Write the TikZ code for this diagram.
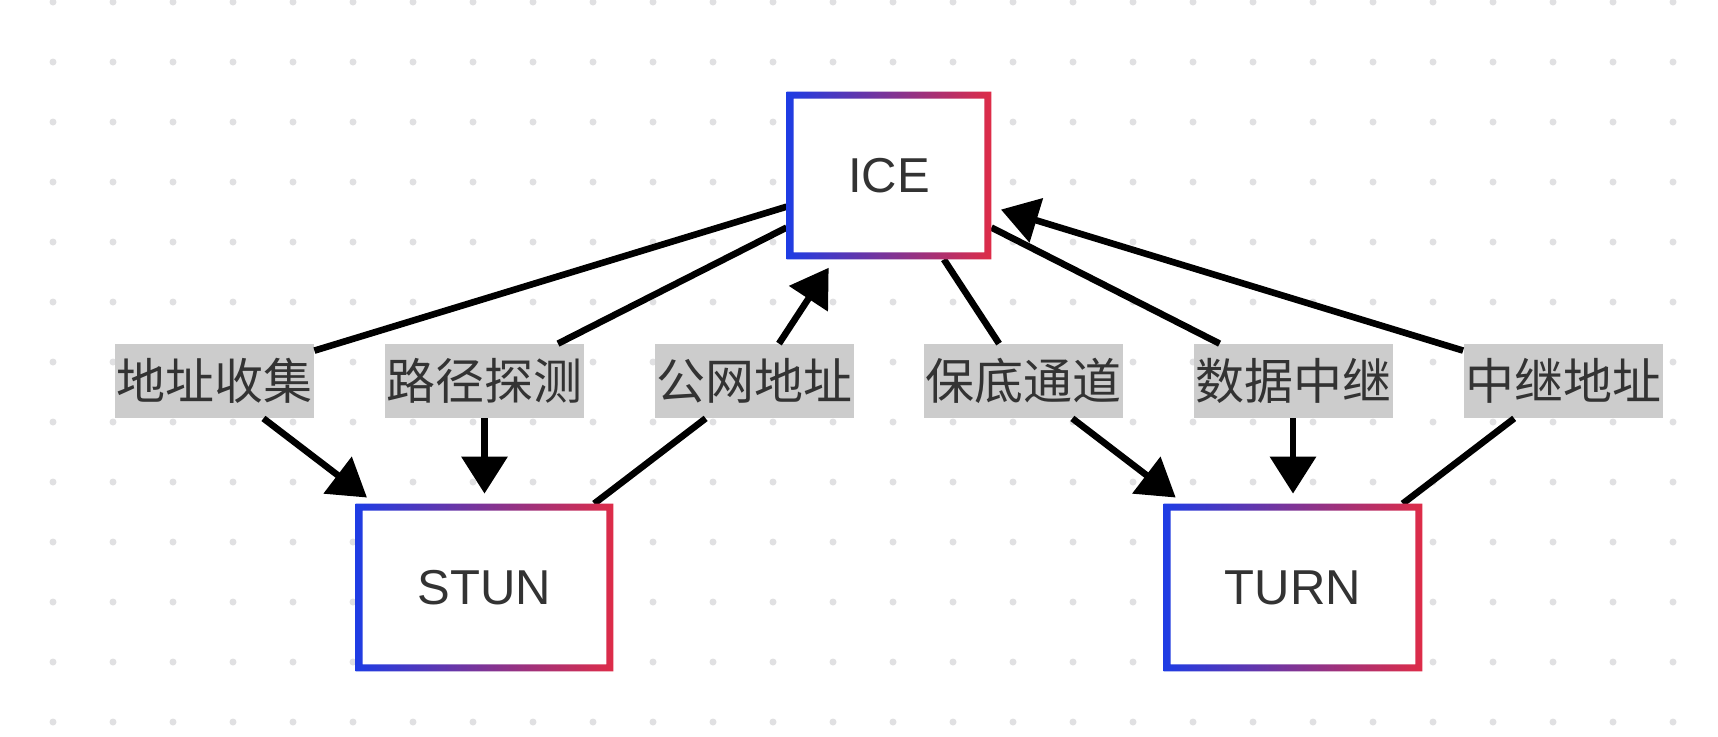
\documentclass[tikz,border=0pt]{standalone}
\usepackage{xcolor}
\usepackage{fontspec}
\setmainfont{Liberation Sans}
\newfontfamily\cjk{Noto Sans CJK SC}
\usepackage{tikz}
\usetikzlibrary{calc, arrows.meta}
\pgfdeclarelayer{background}
\pgfdeclarelayer{foreground}
\pgfsetlayers{background,main,foreground}
\definecolor{iceblue}{RGB}{30,60,228}
\definecolor{icered}{RGB}{222,44,72}
\definecolor{labelgray}{RGB}{204,204,204}
\definecolor{textgray}{RGB}{51,51,51}
\definecolor{dotgray}{RGB}{224,224,226}
\tikzstyle{edge}     = [line width=3.3pt]
\tikzstyle{arrow}    = [edge,-{Triangle[length=18.5pt,width=22.5pt]},shorten >=5pt]

\begin{document}
\begin{tikzpicture}[
    x=0.5pt, y=-0.5pt,
    box/.style={fill=white,minimum height=83.5pt,inner sep=0pt,text=textgray,font=\fontsize{24.5}{30}\selectfont},
    tag/.style={fill=labelgray,minimum width=99.5pt,minimum height=37pt,inner sep=0pt,text=textgray,font=\cjk\fontsize{24.5}{30}\selectfont},
  ]
  \useasboundingbox (0,0) rectangle (1718,736);
  \begin{pgfonlayer}{background}
    \fill[white] (0,0) rectangle (1718,736);
    \foreach \i in {0,...,27}
      \foreach \j in {0,...,12}
        \fill[dotgray] (53+60*\i,2+60*\j) circle[radius=1.75pt];
  \end{pgfonlayer}

  \node[box,minimum width=102pt] (ICE) at (889,175.5) {ICE};
  \node[box,minimum width=128.5pt] (STUN) at (484.5,587.5) {STUN};
  \node[box,minimum width=129pt] (TURN) at (1293,587.5) {TURN};

  \node[tag] (addr) at (214.5,381) {地址收集};
  \node[tag] (probe) at (484.5,381) {路径探测};
  \node[tag] (public) at (754.5,381) {公网地址};
  \node[tag] (fallback) at (1023.5,381) {保底通道};
  \node[tag] (data) at (1293,381) {数据中继};
  \node[tag] (relay) at (1563,381) {中继地址};

  \foreach \from/\via/\to in {ICE/addr/STUN, ICE/probe/STUN, STUN/public/ICE,
      ICE/fallback/TURN, ICE/data/TURN, TURN/relay/ICE} {
    \draw[edge] (\from) -- (\via);
    \draw[arrow] (\via) -- (\to);
  }

  \begin{pgfonlayer}{foreground}
    \foreach \n in {ICE,STUN,TURN}
      \shade[left color=iceblue,right color=icered,even odd rule]
        (\n.north west) rectangle (\n.south east)
        ($(\n.north west)+(7,7)$) rectangle ($(\n.south east)+(-7,-7)$);
  \end{pgfonlayer}
\end{tikzpicture}
\end{document}
